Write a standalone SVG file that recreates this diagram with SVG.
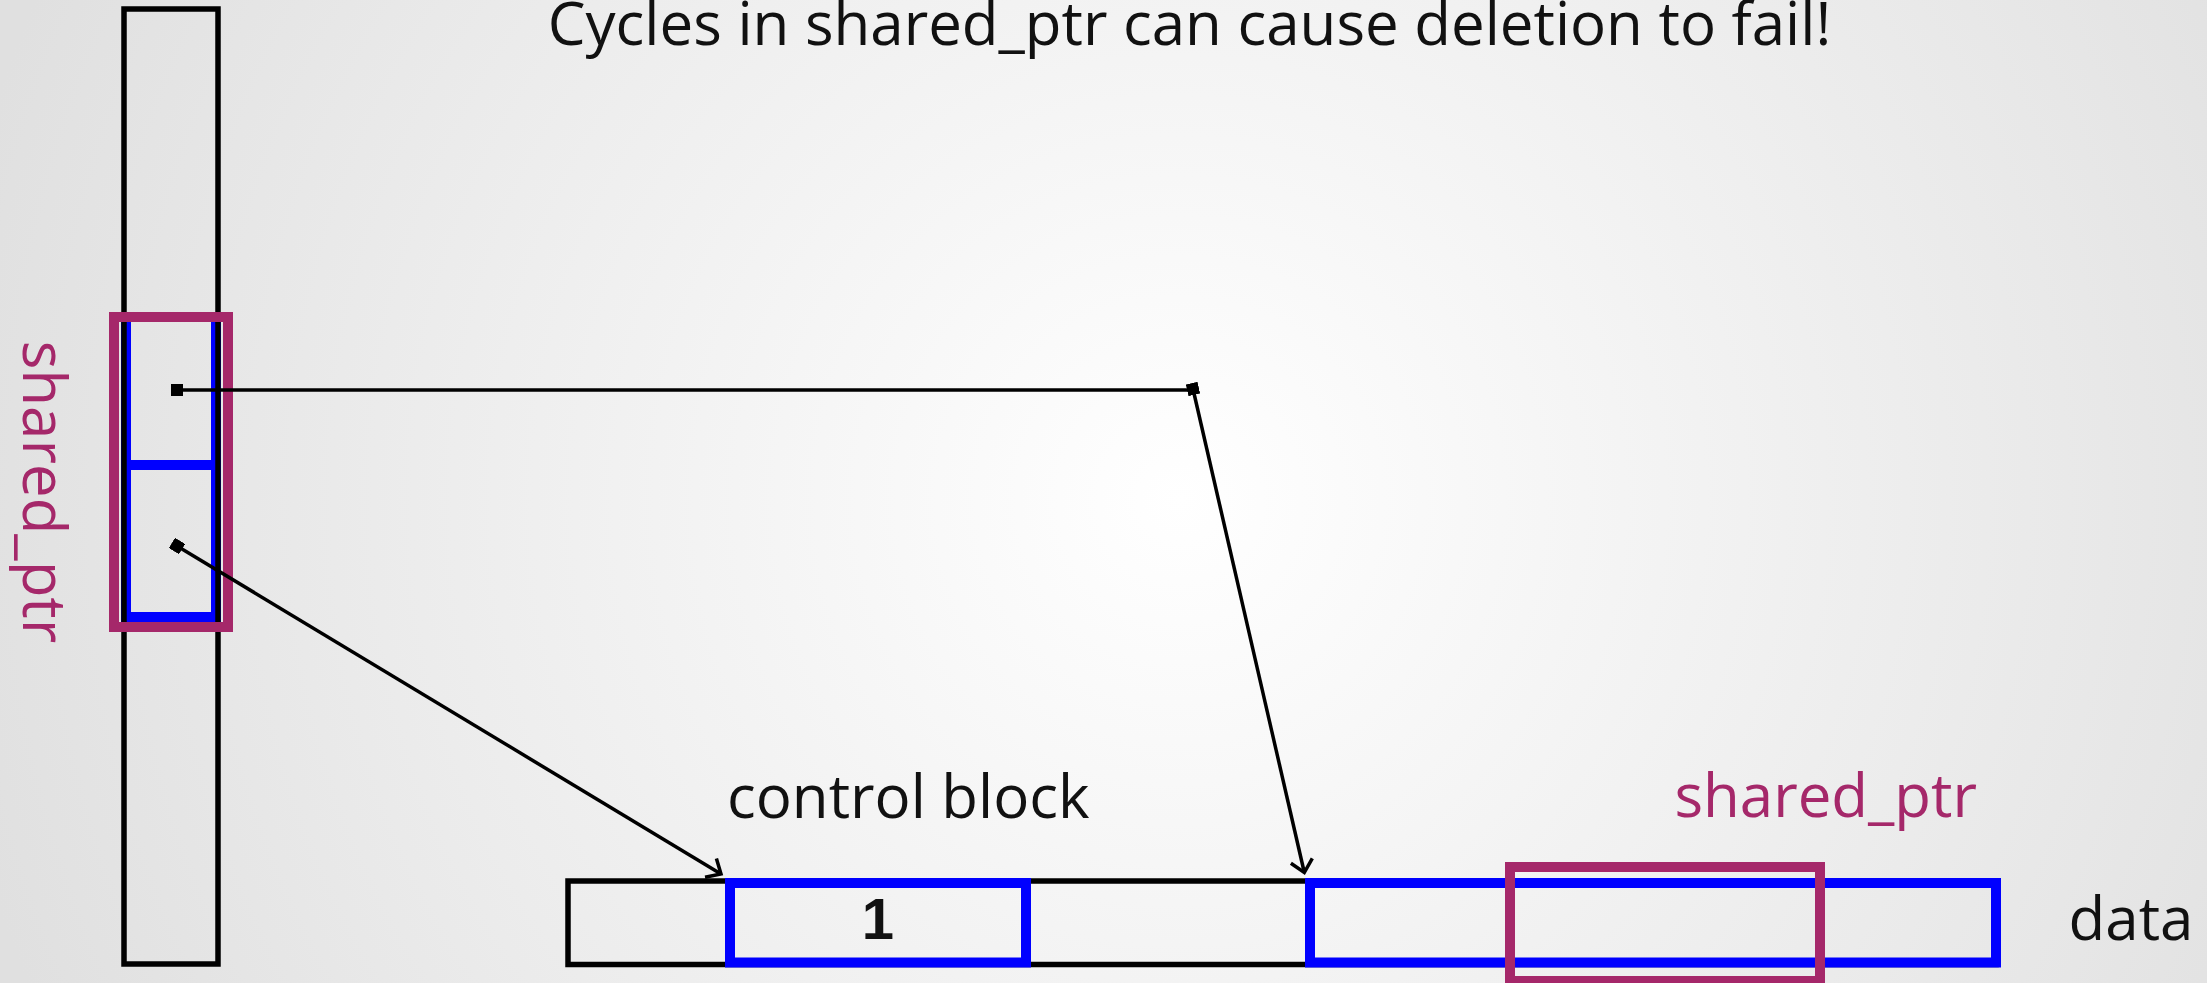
<svg xmlns="http://www.w3.org/2000/svg" width="2207" height="983" viewBox="0 0 2207 983">
  <defs>
    <radialGradient id="bg" gradientUnits="userSpaceOnUse" cx="1180" cy="500" r="1250">
      <stop offset="0" stop-color="#ffffff"/>
      <stop offset="1" stop-color="#e0e0e0"/>
    </radialGradient>
    <!-- square dot at the start of a pointer -->
    <marker id="dot" viewBox="-6 -6 12 12" refX="0" refY="0" markerWidth="12" markerHeight="12" markerUnits="userSpaceOnUse" orient="auto">
      <rect x="-6" y="-6" width="12" height="12" fill="#000"/>
    </marker>
    <!-- open arrowhead at the target of a pointer -->
    <marker id="arrow" viewBox="-15 -14 18 28" refX="0" refY="0" markerWidth="18" markerHeight="28" markerUnits="userSpaceOnUse" orient="auto" overflow="visible">
      <path d="M-12,-11 L0,0 L-12,11" fill="none" stroke="#000" stroke-width="3.5" stroke-linejoin="miter"/>
    </marker>
  </defs>
  <style>
    .frame { fill: none; stroke: #000; stroke-width: 5.5; }
    .cell { fill: none; stroke: #0000ff; stroke-width: 10; }
    .sp { fill: none; stroke: #a5286a; stroke-width: 10; }
    .txt { font-family: "Open Sans", "Noto Sans", "DejaVu Sans", sans-serif; font-size: 60px; fill: #111; }
    .sptxt { fill: #a5286a; }
    .num { font-family: "Liberation Sans", Arial, sans-serif; font-weight: bold; font-size: 58px; fill: #111; }
    .link { fill: none; stroke: #000; stroke-width: 3.5; }
  </style>

  <rect width="2207" height="983" fill="url(#bg)"/>

  <g id="title">
    <text class="txt" x="1189.5" y="45" font-size="58" text-anchor="middle">Cycles in shared_ptr can cause deletion to fail!</text>
  </g>

  <!-- stack column holding the first shared_ptr -->
  <g id="stack">
    <rect class="cell" x="126" y="317" width="90" height="300"/>
    <line class="cell" x1="126" y1="465" x2="216" y2="465"/>
    <rect class="frame" x="124" y="9" width="94" height="955"/>
  </g>

  <g id="shared-ptr-stack">
    <rect class="sp" x="114" y="317" width="114" height="310"/>
    <text class="txt sptxt" transform="translate(23,492) rotate(90)" text-anchor="middle">shared_ptr</text>
  </g>

  <!-- heap row: control block followed by the data object -->
  <g id="heap">
    <rect class="frame" x="568" y="881" width="1428" height="83.5"/>
  </g>

  <g id="control-block">
    <rect class="cell" x="730" y="883" width="296" height="79.5"/>
    <text class="num" x="878" y="939" text-anchor="middle">1</text>
    <text class="txt" x="908.3" y="818" text-anchor="middle">control block</text>
  </g>

  <g id="data">
    <rect class="cell" x="1310" y="883" width="686" height="79.5"/>
    <text class="txt" x="2131" y="940" text-anchor="middle">data</text>
  </g>

  <g id="shared-ptr-data">
    <rect class="sp" x="1510" y="867" width="310" height="114"/>
    <text class="txt sptxt" x="1825.7" y="817" text-anchor="middle">shared_ptr</text>
  </g>

  <g id="connectors">
    <path class="link" d="M177,390 H1193" marker-start="url(#dot)"/>
    <path class="link" d="M1193,389 L1304.3,872.5" marker-start="url(#dot)" marker-end="url(#arrow)"/>
    <path class="link" d="M177,546 L721,874" marker-start="url(#dot)" marker-end="url(#arrow)"/>
  </g>
</svg>
